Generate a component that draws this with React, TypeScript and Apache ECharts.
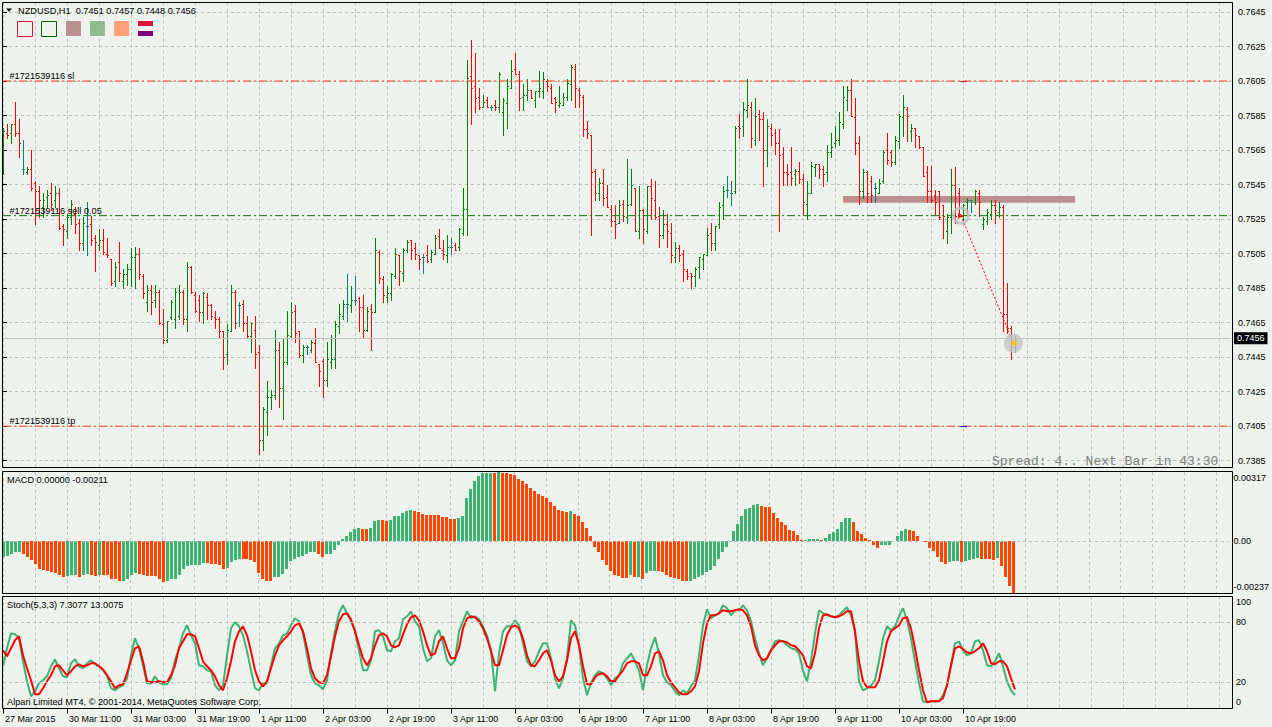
import React, { useEffect, useRef } from "react";
import * as echarts from "echarts";

// ---------------- data ----------------
const dateLabels = [
  "27 Mar 2015", "30 Mar 11:00", "31 Mar 03:00", "31 Mar 19:00", "1 Apr 11:00", "2 Apr 03:00",
  "2 Apr 19:00", "3 Apr 11:00", "6 Apr 03:00", "6 Apr 19:00", "7 Apr 11:00", "8 Apr 03:00",
  "8 Apr 19:00", "9 Apr 11:00", "10 Apr 03:00", "10 Apr 19:00",
];

const openPrices = [
  0.7561, 0.7575, 0.7575, 0.7580, 0.7575, 0.7554, 0.7552, 0.7554, 0.7546, 0.7541,
  0.7532, 0.7538, 0.7540, 0.7536, 0.7540, 0.7521, 0.7518, 0.7526, 0.7528, 0.7523,
  0.7511, 0.7521, 0.7522, 0.7514, 0.7510, 0.7513, 0.7505, 0.7502, 0.7489, 0.7500,
  0.7489, 0.7493, 0.7496, 0.7503, 0.7505, 0.7492, 0.7477, 0.7484, 0.7478, 0.7483,
  0.7464, 0.7455, 0.7468, 0.7467, 0.7469, 0.7483, 0.7467, 0.7497, 0.7481, 0.7478,
  0.7471, 0.7480, 0.7475, 0.7468, 0.7467, 0.7460, 0.7447, 0.7460, 0.7483, 0.7475,
  0.7476, 0.7465, 0.7457, 0.7461, 0.7448, 0.7397, 0.7413, 0.7422, 0.7423, 0.7449,
  0.7427, 0.7442, 0.7457, 0.7472, 0.7460, 0.7446, 0.7451, 0.7449, 0.7453, 0.7441,
  0.7443, 0.7432, 0.7442, 0.7444, 0.7463, 0.7469, 0.7476, 0.7475, 0.7478, 0.7479,
  0.7474, 0.7461, 0.7473, 0.7471, 0.7506, 0.7490, 0.7480, 0.7482, 0.7492, 0.7504,
  0.7494, 0.7507, 0.7513, 0.7508, 0.7504, 0.7503, 0.7504, 0.7502, 0.7505, 0.7515,
  0.7507, 0.7504, 0.7509, 0.7510, 0.7509, 0.7517, 0.7531, 0.7608, 0.7602, 0.7596,
  0.7590, 0.7594, 0.7590, 0.7591, 0.7590, 0.7587, 0.7592, 0.7601, 0.7612, 0.7609,
  0.7596, 0.7597, 0.7600, 0.7594, 0.7599, 0.7599, 0.7605, 0.7601, 0.7595, 0.7591,
  0.7591, 0.7596, 0.7603, 0.7612, 0.7600, 0.7596, 0.7577, 0.7574, 0.7553, 0.7540,
  0.7546, 0.7538, 0.7531, 0.7524, 0.7523, 0.7534, 0.7526, 0.7534, 0.7543, 0.7518,
  0.7530, 0.7518, 0.7544, 0.7536, 0.7527, 0.7516, 0.7522, 0.7517, 0.7503, 0.7508,
  0.7505, 0.7495, 0.7494, 0.7492, 0.7497, 0.7502, 0.7504, 0.7517, 0.7511, 0.7522,
  0.7533, 0.7542, 0.7540, 0.7541, 0.7579, 0.7579, 0.7588, 0.7590, 0.7571, 0.7586,
  0.7583, 0.7565, 0.7578, 0.7575, 0.7569, 0.7563, 0.7552, 0.7552, 0.7551, 0.7553,
  0.7548, 0.7534, 0.7540, 0.7555, 0.7557, 0.7554, 0.7552, 0.7564, 0.7569, 0.7571,
  0.7580, 0.7594, 0.7600, 0.7584, 0.7569, 0.7541, 0.7552, 0.7547, 0.7543, 0.7540,
  0.7547, 0.7565, 0.7564, 0.7558, 0.7570, 0.7584, 0.7589, 0.7576, 0.7578, 0.7573,
  0.7567, 0.7552, 0.7541, 0.7539, 0.7541, 0.7533, 0.7518, 0.7526, 0.7545, 0.7540,
  0.7527, 0.7535, 0.7536, 0.7535, 0.7540, 0.7522, 0.7524, 0.7528, 0.7533, 0.7529,
  0.7532, 0.7470, 0.7462, 0.7451,
];

const highPrices = [
  0.7578, 0.7580, 0.7580, 0.7593, 0.7583, 0.7571, 0.7555, 0.7565, 0.7547, 0.7544,
  0.7540, 0.7542, 0.7546, 0.7544, 0.7543, 0.7522, 0.7528, 0.7536, 0.7532, 0.7525,
  0.7526, 0.7535, 0.7527, 0.7516, 0.7519, 0.7519, 0.7514, 0.7502, 0.7500, 0.7512,
  0.7496, 0.7499, 0.7508, 0.7509, 0.7508, 0.7493, 0.7487, 0.7487, 0.7487, 0.7484,
  0.7473, 0.7466, 0.7478, 0.7485, 0.7487, 0.7484, 0.7500, 0.7498, 0.7483, 0.7481,
  0.7483, 0.7482, 0.7476, 0.7472, 0.7468, 0.7460, 0.7464, 0.7487, 0.7484, 0.7477,
  0.7478, 0.7469, 0.7465, 0.7469, 0.7452, 0.7416, 0.7431, 0.7426, 0.7461, 0.7454,
  0.7456, 0.7472, 0.7477, 0.7475, 0.7460, 0.7452, 0.7452, 0.7455, 0.7462, 0.7441,
  0.7444, 0.7454, 0.7458, 0.7466, 0.7476, 0.7478, 0.7493, 0.7486, 0.7492, 0.7480,
  0.7481, 0.7474, 0.7476, 0.7514, 0.7507, 0.7492, 0.7486, 0.7494, 0.7508, 0.7504,
  0.7508, 0.7513, 0.7513, 0.7511, 0.7504, 0.7505, 0.7510, 0.7507, 0.7516, 0.7519,
  0.7513, 0.7516, 0.7514, 0.7511, 0.7520, 0.7543, 0.7617, 0.7629, 0.7621, 0.7601,
  0.7597, 0.7596, 0.7591, 0.7594, 0.7610, 0.7595, 0.7606, 0.7617, 0.7621, 0.7611,
  0.7603, 0.7606, 0.7600, 0.7599, 0.7611, 0.7610, 0.7606, 0.7603, 0.7596, 0.7602,
  0.7598, 0.7606, 0.7614, 0.7615, 0.7601, 0.7597, 0.7582, 0.7574, 0.7554, 0.7549,
  0.7554, 0.7545, 0.7533, 0.7533, 0.7536, 0.7536, 0.7560, 0.7554, 0.7543, 0.7544,
  0.7531, 0.7544, 0.7548, 0.7547, 0.7532, 0.7530, 0.7528, 0.7523, 0.7512, 0.7510,
  0.7507, 0.7496, 0.7494, 0.7497, 0.7503, 0.7505, 0.7520, 0.7523, 0.7521, 0.7535,
  0.7544, 0.7550, 0.7547, 0.7579, 0.7586, 0.7593, 0.7606, 0.7593, 0.7595, 0.7588,
  0.7587, 0.7583, 0.7580, 0.7577, 0.7577, 0.7567, 0.7557, 0.7567, 0.7554, 0.7558,
  0.7551, 0.7547, 0.7558, 0.7557, 0.7557, 0.7556, 0.7568, 0.7575, 0.7579, 0.7587,
  0.7602, 0.7602, 0.7606, 0.7595, 0.7573, 0.7554, 0.7553, 0.7550, 0.7546, 0.7548,
  0.7565, 0.7575, 0.7565, 0.7573, 0.7586, 0.7597, 0.7590, 0.7580, 0.7578, 0.7573,
  0.7567, 0.7556, 0.7556, 0.7542, 0.7541, 0.7533, 0.7528, 0.7554, 0.7555, 0.7543,
  0.7534, 0.7537, 0.7536, 0.7542, 0.7542, 0.7526, 0.7531, 0.7536, 0.7536, 0.7535,
  0.7533, 0.7488, 0.7463, 0.7457,
];

const lowPrices = [
  0.7551, 0.7572, 0.7569, 0.7573, 0.7561, 0.7551, 0.7551, 0.7542, 0.7522, 0.7526,
  0.7526, 0.7532, 0.7530, 0.7532, 0.7519, 0.7510, 0.7514, 0.7522, 0.7517, 0.7507,
  0.7507, 0.7504, 0.7510, 0.7495, 0.7507, 0.7505, 0.7503, 0.7487, 0.7486, 0.7489,
  0.7485, 0.7487, 0.7486, 0.7485, 0.7490, 0.7479, 0.7472, 0.7470, 0.7474, 0.7464,
  0.7453, 0.7454, 0.7467, 0.7462, 0.7467, 0.7464, 0.7460, 0.7482, 0.7471, 0.7466,
  0.7465, 0.7467, 0.7467, 0.7462, 0.7456, 0.7438, 0.7441, 0.7460, 0.7462, 0.7463,
  0.7460, 0.7456, 0.7448, 0.7439, 0.7389, 0.7391, 0.7400, 0.7415, 0.7421, 0.7416,
  0.7409, 0.7441, 0.7456, 0.7454, 0.7445, 0.7442, 0.7447, 0.7448, 0.7442, 0.7428,
  0.7422, 0.7428, 0.7439, 0.7439, 0.7459, 0.7467, 0.7466, 0.7471, 0.7475, 0.7460,
  0.7456, 0.7460, 0.7449, 0.7471, 0.7488, 0.7477, 0.7477, 0.7478, 0.7491, 0.7487,
  0.7489, 0.7506, 0.7502, 0.7502, 0.7496, 0.7494, 0.7500, 0.7500, 0.7505, 0.7508,
  0.7502, 0.7500, 0.7505, 0.7507, 0.7507, 0.7516, 0.7516, 0.7580, 0.7587, 0.7589,
  0.7590, 0.7590, 0.7588, 0.7588, 0.7587, 0.7574, 0.7578, 0.7601, 0.7609, 0.7588,
  0.7588, 0.7594, 0.7595, 0.7590, 0.7596, 0.7595, 0.7599, 0.7592, 0.7587, 0.7590,
  0.7591, 0.7594, 0.7594, 0.7590, 0.7590, 0.7573, 0.7572, 0.7516, 0.7536, 0.7536,
  0.7533, 0.7532, 0.7521, 0.7514, 0.7523, 0.7524, 0.7523, 0.7533, 0.7518, 0.7514,
  0.7511, 0.7517, 0.7525, 0.7525, 0.7509, 0.7514, 0.7509, 0.7500, 0.7500, 0.7501,
  0.7489, 0.7490, 0.7485, 0.7486, 0.7491, 0.7496, 0.7504, 0.7507, 0.7507, 0.7520,
  0.7525, 0.7538, 0.7533, 0.7540, 0.7572, 0.7573, 0.7584, 0.7567, 0.7568, 0.7571,
  0.7544, 0.7556, 0.7568, 0.7563, 0.7518, 0.7545, 0.7545, 0.7545, 0.7545, 0.7546,
  0.7528, 0.7525, 0.7540, 0.7550, 0.7549, 0.7544, 0.7547, 0.7561, 0.7567, 0.7568,
  0.7578, 0.7588, 0.7585, 0.7563, 0.7534, 0.7537, 0.7535, 0.7535, 0.7535, 0.7540,
  0.7546, 0.7557, 0.7556, 0.7557, 0.7566, 0.7573, 0.7570, 0.7570, 0.7567, 0.7566,
  0.7550, 0.7535, 0.7535, 0.7528, 0.7525, 0.7514, 0.7511, 0.7517, 0.7523, 0.7527,
  0.7523, 0.7528, 0.7529, 0.7534, 0.7527, 0.7519, 0.7522, 0.7525, 0.7523, 0.7526,
  0.7460, 0.7459, 0.7444, 0.7448,
];

const closePrices = [
  0.7576, 0.7574, 0.7580, 0.7575, 0.7569, 0.7554, 0.7554, 0.7543, 0.7541, 0.7536,
  0.7536, 0.7539, 0.7534, 0.7540, 0.7520, 0.7519, 0.7526, 0.7534, 0.7522, 0.7511,
  0.7523, 0.7521, 0.7513, 0.7512, 0.7513, 0.7506, 0.7504, 0.7488, 0.7497, 0.7494,
  0.7493, 0.7496, 0.7503, 0.7505, 0.7493, 0.7482, 0.7484, 0.7477, 0.7483, 0.7465,
  0.7455, 0.7466, 0.7477, 0.7483, 0.7483, 0.7467, 0.7497, 0.7483, 0.7472, 0.7471,
  0.7482, 0.7475, 0.7469, 0.7467, 0.7460, 0.7445, 0.7461, 0.7483, 0.7465, 0.7475,
  0.7465, 0.7457, 0.7465, 0.7447, 0.7397, 0.7415, 0.7422, 0.7423, 0.7449, 0.7427,
  0.7442, 0.7458, 0.7471, 0.7459, 0.7446, 0.7451, 0.7451, 0.7454, 0.7442, 0.7437,
  0.7432, 0.7444, 0.7444, 0.7464, 0.7470, 0.7476, 0.7476, 0.7478, 0.7478, 0.7474,
  0.7461, 0.7472, 0.7471, 0.7507, 0.7491, 0.7481, 0.7482, 0.7493, 0.7505, 0.7495,
  0.7507, 0.7512, 0.7507, 0.7505, 0.7502, 0.7503, 0.7501, 0.7506, 0.7514, 0.7508,
  0.7505, 0.7509, 0.7509, 0.7507, 0.7519, 0.7531, 0.7607, 0.7601, 0.7595, 0.7590,
  0.7593, 0.7590, 0.7590, 0.7590, 0.7609, 0.7594, 0.7602, 0.7611, 0.7609, 0.7595,
  0.7597, 0.7600, 0.7595, 0.7599, 0.7601, 0.7606, 0.7602, 0.7592, 0.7593, 0.7592,
  0.7596, 0.7604, 0.7613, 0.7601, 0.7597, 0.7577, 0.7575, 0.7552, 0.7540, 0.7546,
  0.7537, 0.7532, 0.7524, 0.7522, 0.7533, 0.7527, 0.7533, 0.7545, 0.7518, 0.7530,
  0.7519, 0.7544, 0.7537, 0.7526, 0.7516, 0.7522, 0.7518, 0.7504, 0.7508, 0.7504,
  0.7496, 0.7492, 0.7492, 0.7496, 0.7503, 0.7505, 0.7516, 0.7511, 0.7521, 0.7532,
  0.7541, 0.7542, 0.7540, 0.7578, 0.7578, 0.7589, 0.7591, 0.7572, 0.7585, 0.7583,
  0.7565, 0.7579, 0.7574, 0.7569, 0.7562, 0.7552, 0.7551, 0.7549, 0.7553, 0.7548,
  0.7535, 0.7540, 0.7556, 0.7557, 0.7554, 0.7551, 0.7564, 0.7567, 0.7571, 0.7581,
  0.7596, 0.7600, 0.7585, 0.7569, 0.7541, 0.7552, 0.7540, 0.7539, 0.7543, 0.7546,
  0.7564, 0.7559, 0.7558, 0.7571, 0.7585, 0.7590, 0.7585, 0.7578, 0.7574, 0.7567,
  0.7550, 0.7541, 0.7536, 0.7535, 0.7526, 0.7527, 0.7526, 0.7545, 0.7527, 0.7527,
  0.7533, 0.7536, 0.7536, 0.7541, 0.7535, 0.7525, 0.7529, 0.7533, 0.7530, 0.7532,
  0.7470, 0.7462, 0.7451, 0.7456,
];

const macdValues = [
  -0.00074, -0.00069, -0.00057, -0.00048, -0.00047, -0.00060, -0.00074, -0.00086, -0.00103, -0.00125,
  -0.00132, -0.00137, -0.00141, -0.00145, -0.00154, -0.00163, -0.00160, -0.00154, -0.00153, -0.00163,
  -0.00154, -0.00152, -0.00155, -0.00159, -0.00154, -0.00155, -0.00156, -0.00173, -0.00175, -0.00182,
  -0.00180, -0.00173, -0.00154, -0.00146, -0.00149, -0.00156, -0.00157, -0.00158, -0.00159, -0.00173,
  -0.00187, -0.00180, -0.00173, -0.00172, -0.00154, -0.00129, -0.00115, -0.00111, -0.00110, -0.00108,
  -0.00099, -0.00100, -0.00103, -0.00104, -0.00108, -0.00125, -0.00122, -0.00094, -0.00086, -0.00081,
  -0.00082, -0.00083, -0.00084, -0.00094, -0.00146, -0.00172, -0.00180, -0.00184, -0.00163, -0.00162,
  -0.00151, -0.00129, -0.00091, -0.00081, -0.00074, -0.00069, -0.00060, -0.00051, -0.00050, -0.00060,
  -0.00072, -0.00060, -0.00057, -0.00039, -0.00019, 0.00009, 0.00026, 0.00043, 0.00055, 0.00060,
  0.00055, 0.00054, 0.00060, 0.00091, 0.00096, 0.00095, 0.00093, 0.00098, 0.00115, 0.00117,
  0.00129, 0.00137, 0.00142, 0.00137, 0.00132, 0.00123, 0.00122, 0.00120, 0.00119, 0.00118,
  0.00111, 0.00110, 0.00103, 0.00102, 0.00108, 0.00115, 0.00197, 0.00240, 0.00274, 0.00297,
  0.00312, 0.00313, 0.00314, 0.00312, 0.00317, 0.00312, 0.00311, 0.00310, 0.00304, 0.00286,
  0.00274, 0.00261, 0.00244, 0.00232, 0.00214, 0.00209, 0.00197, 0.00180, 0.00160, 0.00141,
  0.00137, 0.00132, 0.00137, 0.00125, 0.00115, 0.00086, 0.00060, 0.00022, -0.00026, -0.00051,
  -0.00086, -0.00111, -0.00137, -0.00154, -0.00160, -0.00168, -0.00170, -0.00154, -0.00166, -0.00164,
  -0.00172, -0.00146, -0.00137, -0.00136, -0.00138, -0.00142, -0.00154, -0.00166, -0.00168, -0.00172,
  -0.00180, -0.00184, -0.00180, -0.00172, -0.00166, -0.00154, -0.00142, -0.00132, -0.00115, -0.00082,
  -0.00051, -0.00026, -0.00005, 0.00046, 0.00081, 0.00115, 0.00146, 0.00154, 0.00166, 0.00172,
  0.00160, 0.00158, 0.00157, 0.00129, 0.00108, 0.00089, 0.00074, 0.00051, 0.00048, 0.00029,
  0.00005, 0.00006, 0.00009, 0.00010, 0.00011, 0.00005, 0.00017, 0.00031, 0.00043, 0.00055,
  0.00086, 0.00106, 0.00107, 0.00086, 0.00046, 0.00031, 0.00017, 0.00005, -0.00017, -0.00029,
  -0.00017, -0.00016, -0.00015, 0.00000, 0.00026, 0.00046, 0.00055, 0.00050, 0.00048, 0.00026,
  0.00003, -0.00005, -0.00029, -0.00046, -0.00074, -0.00094, -0.00103, -0.00094, -0.00091, -0.00090,
  -0.00097, -0.00091, -0.00086, -0.00081, -0.00077, -0.00081, -0.00082, -0.00083, -0.00084, -0.00077,
  -0.00115, -0.00166, -0.00206, -0.00237,
];

const stochMain = [
  36, 54, 69, 68, 64, 41, 21, 6, 11, 19,
  22, 26, 36, 43, 34, 26, 25, 39, 43, 36,
  34, 39, 42, 38, 36, 32, 27, 14, 12, 15,
  17, 24, 47, 64, 54, 37, 19, 19, 26, 20,
  18, 18, 24, 42, 54, 69, 77, 67, 59, 37,
  36, 32, 31, 17, 12, 17, 47, 74, 80, 76,
  67, 51, 32, 14, 12, 19, 19, 37, 54, 59,
  67, 69, 77, 84, 81, 69, 47, 27, 19, 17,
  13, 22, 49, 71, 89, 97, 89, 81, 71, 52,
  32, 32, 42, 71, 72, 66, 52, 51, 61, 64,
  83, 86, 91, 81, 76, 54, 41, 44, 66, 72,
  59, 42, 37, 42, 71, 81, 91, 84, 86, 83,
  76, 67, 52, 11, 49, 71, 76, 76, 82, 77,
  59, 41, 36, 41, 51, 59, 59, 44, 24, 14,
  24, 44, 82, 77, 57, 24, 7, 19, 27, 31,
  29, 24, 17, 24, 27, 39, 44, 49, 41, 32,
  12, 37, 54, 65, 49, 27, 20, 17, 11, 7,
  12, 9, 16, 22, 47, 77, 93, 84, 87, 89,
  97, 94, 87, 92, 92, 97, 92, 81, 64, 49,
  37, 44, 52, 61, 62, 61, 57, 54, 53, 49,
  32, 21, 41, 69, 92, 89, 87, 86, 85, 87,
  91, 95, 87, 71, 21, 12, 14, 17, 22, 41,
  64, 76, 72, 76, 86, 94, 82, 64, 41, 19,
  1, 0, 1, 1, 1, 7, 17, 37, 59, 61,
  52, 47, 49, 61, 62, 52, 37, 36, 41, 49,
  36, 21, 12, 7.3077,
];

const stochSignal = [
  52, 46, 54, 62, 66, 47, 34, 22, 8, 8,
  14, 21, 27, 36, 37, 32, 27, 31, 36, 38,
  36, 37, 39, 39, 36, 33, 27, 21, 14, 17,
  18, 29, 42, 54, 56, 41, 21, 20, 20, 21,
  20, 20, 27, 37, 54, 61, 68, 68, 66, 54,
  41, 36, 32, 26, 17, 12, 24, 41, 61, 71,
  76, 67, 51, 32, 21, 16, 21, 34, 47, 57,
  62, 66, 71, 77, 79, 71, 54, 34, 24, 20,
  19, 27, 46, 66, 81, 88, 89, 83, 71, 57,
  44, 37, 44, 57, 67, 69, 66, 57, 55, 57,
  68, 78, 85, 87, 82, 71, 57, 47, 49, 61,
  66, 54, 44, 44, 54, 74, 84, 86, 85, 81,
  74, 64, 51, 37, 37, 52, 67, 75, 77, 74,
  64, 47, 37, 36, 42, 49, 52, 42, 27, 21,
  26, 42, 64, 71, 57, 36, 18, 18, 25, 28,
  29, 26, 21, 21, 27, 32, 39, 41, 41, 39,
  27, 27, 36, 49, 51, 42, 27, 20, 15, 10,
  8, 8, 11, 16, 31, 59, 79, 87, 87, 89,
  92, 91, 91, 92, 93, 92, 87, 76, 57, 47,
  42, 44, 52, 57, 61, 61, 60, 57, 56, 52,
  47, 36, 34, 49, 74, 87, 88, 86, 85, 86,
  88, 91, 91, 71, 41, 21, 15, 15, 15, 22,
  41, 61, 71, 74, 77, 84, 85, 74, 54, 32,
  12, 0, 1, 1, 1, 4, 17, 37, 54, 56,
  53, 50, 49, 51, 54, 59, 51, 39, 38, 41,
  41, 36, 24, 13.0075,
];

// order levels / objects
const stopLossLevel = 0.7605;
const sellLevel = 0.7527;
const takeProfitLevel = 0.7405;
const currentPrice = 0.7456;
const rectTop = 0.75384;
const rectBottom = 0.75345;
const tradeOpen = [239.5, 0.7527];
const tradeClose = [252.6, 0.7453];

// ---------------- styling ----------------
const BG = "#EDF2ED";
const GRID_C = "#BEBEBE";
const FONT = '"Liberation Sans", Arial, sans-serif';
const UP = "#008000";
const DOWN = "#FF0000";
const FLAT = "#008080";
const MACD_UP = "#3CB371";
const MACD_DOWN = "#FF4500";
const SL_TP = "#FF4500";
const SELL_C = "#008000";
const N_SLOTS = 308;
const GL = 3;
const GW = 1228;

export default function App() {
  const ref = useRef<HTMLDivElement>(null);

  useEffect(() => {
    document.body.style.margin = "0";
    document.body.style.background = BG;
    const chart = echarts.init(ref.current!, null, { renderer: "svg" });
    const slots = Array.from({ length: N_SLOTS }, (_, i) => String(i));

    const barData = openPrices.map((o, i) => [i, o, highPrices[i], lowPrices[i], closePrices[i]]);
    const macdData = macdValues.map((v, i) => [i, v, i === 0 || v >= macdValues[i - 1] ? 1 : 0]);
    const mainData = stochMain.map((v, i) => [i, v]);
    const sigData = stochSignal.map((v, i) => [i, v]);

    const vGrid = (gridIndex: number, extra: any = {}) => ({
      type: "category",
      gridIndex,
      data: slots,
      boundaryGap: false,
      position: "bottom",
      axisLine: { show: false },
      axisTick: { show: false },
      axisLabel: { show: false },
      splitLine: {
        show: true,
        interval: (i: number) => i % 8 === 0,
        lineStyle: { color: GRID_C, type: [3, 3], width: 1 },
      },
      ...extra,
    });
    const hiddenX = (gridIndex: number) => ({ type: "value", gridIndex, min: 0, max: N_SLOTS - 1, show: false, position: "top" });
    const hiddenY = (gridIndex: number) => ({ type: "value", gridIndex, min: 0, max: 1, show: false });

    // hidden carrier series for marker-based objects
    const objectSeries = (name: string, color: string, markLine: any, z = 4, extra: any = {}) => ({
      type: "line",
      name,
      color,
      xAxisIndex: 0,
      yAxisIndex: 0,
      z,
      silent: true,
      symbol: "none",
      lineStyle: { opacity: 0, color },
      data: [[0, closePrices[0]]],
      markLine: markLine
        ? { silent: true, precision: 6, symbol: ["none", "none"], label: { show: false }, ...markLine }
        : undefined,
      ...extra,
    });
    // order levels drawn as plain two-point line series across the whole plot width
    const levelLine = (name: string, level: number, color: string) => ({
      type: "line",
      name,
      color,
      xAxisIndex: 0,
      yAxisIndex: 0,
      z: 4,
      silent: true,
      symbol: "none",
      data: [[0, level], [N_SLOTS - 1, level]],
      lineStyle: { color, type: [8, 3, 2, 3], width: 1, opacity: 1 },
    });

    const txt = (x: number, y: number, text: string, size = 9.2, extra: any = {}) => ({
      type: "text",
      x,
      y,
      z: 100,
      silent: true,
      style: {
        text,
        fill: "#000",
        font: `${size}px ${FONT}`,
        textAlign: "left",
        align: "left",
        textVerticalAlign: "middle",
        verticalAlign: "middle",
        ...extra,
      },
    });
    const frame = (y: number, h: number) => ({
      type: "rect",
      z: 100,
      silent: true,
      shape: { x: 2.5, y, width: 1230, height: h },
      style: { fill: "none", stroke: "#000", lineWidth: 1 },
    });
    const box = (x: number, y: number, w: number, h: number, style: any) => ({
      type: "rect",
      z: 100,
      silent: true,
      shape: { x, y, width: w, height: h },
      style,
    });

    const option: any = {
      animation: false,
      backgroundColor: BG,
      grid: [
        { left: GL, width: GW, top: 12, height: 448.7 },
        { left: GL, width: GW, top: 2.5, height: 465 },
        { left: GL, width: GW, top: 472, height: 121 },
        { left: GL, width: GW, top: 602.3, height: 100 },
        { left: GL, width: GW, top: 596.5, height: 112 },
      ],
      xAxis: [
        hiddenX(0),
        vGrid(1),
        hiddenX(2),
        vGrid(2),
        hiddenX(3),
        vGrid(4, {
          axisTick: {
            show: true,
            interval: (i: number) => i % 16 === 0 && i <= 240,
            length: 5,
            lineStyle: { color: "#000", width: 1 },
          },
          axisLabel: {
            show: true,
            interval: (i: number) => i % 16 === 0 && i <= 240,
            formatter: (v: string) => dateLabels[Number(v) / 16] || "",
            align: "left",
            padding: [0, 0, 0, 2],
            margin: 6,
            color: "#000",
            fontSize: 9,
            fontFamily: FONT,
          },
        }),
      ],
      yAxis: [
        {
          type: "value",
          gridIndex: 0,
          position: "right",
          min: 0.7385,
          max: 0.7645,
          interval: 0.002,
          axisLine: { show: false },
          axisTick: { show: true, length: 4, lineStyle: { color: "#000" } },
          axisLabel: { formatter: (v: number) => v.toFixed(4), color: "#000", fontSize: 9, fontFamily: FONT, margin: 7 },
          splitLine: { show: true, lineStyle: { color: GRID_C, type: [3, 3], width: 1 } },
        },
        hiddenY(1),
        {
          type: "value",
          gridIndex: 2,
          position: "right",
          min: -0.00237,
          max: 0.00317,
          interval: 0.00554,
          axisLine: { show: false },
          axisTick: { show: false },
          splitLine: { show: false },
          axisLabel: {
            margin: 5,
            formatter: (v: number) => (v > 0 ? `{t|${v.toFixed(5)}}` : `{b|${v.toFixed(5)}}`),
            rich: {
              t: { padding: [12, 0, 0, 0], color: "#000", fontSize: 9, fontFamily: FONT },
              b: { padding: [0, 0, 12, 0], color: "#000", fontSize: 9, fontFamily: FONT },
            },
          },
        },
        {
          type: "value",
          gridIndex: 3,
          position: "right",
          min: 0,
          max: 100,
          interval: 20,
          axisLine: { show: false },
          axisTick: { show: false },
          splitLine: { show: false },
          axisLabel: {
            margin: 5,
            formatter: (v: number) => (v === 0 || v === 20 || v === 80 || v === 100 ? String(v) : ""),
            color: "#000",
            fontSize: 9,
            fontFamily: FONT,
          },
        },
        hiddenY(4),
      ],
      series: [
        {
          type: "custom",
          name: "bars",
          xAxisIndex: 0,
          yAxisIndex: 0,
          z: 3,
          silent: true,
          data: barData,
          encode: { x: 0, y: [1, 2, 3, 4] },
          renderItem: (params: any, api: any) => {
            const i = api.value(0);
            const o = api.value(1);
            const h = api.value(2);
            const l = api.value(3);
            const c = api.value(4);
            const pt = api.coord([i, h]);
            const pb = api.coord([i, l]);
            const po = api.coord([i, o]);
            const pc = api.coord([i, c]);
            const color = c > o ? UP : c < o ? DOWN : FLAT;
            const x = Math.round(pt[0]) + 0.5;
            const yo = Math.round(po[1]) + 0.5;
            const yc = Math.round(pc[1]) + 0.5;
            const st = { stroke: color, lineWidth: 1 };
            return {
              type: "group",
              children: [
                { type: "line", shape: { x1: x, y1: Math.round(pt[1]), x2: x, y2: Math.round(pb[1]) + 1 }, style: st },
                { type: "line", shape: { x1: x - 1.5, y1: yo, x2: x, y2: yo }, style: st },
                { type: "line", shape: { x1: x, y1: yc, x2: x + 1.5, y2: yc }, style: st },
              ],
            };
          },
        },
        objectSeries("price line", "#C0C0C0", {
          data: [{ yAxis: currentPrice }],
          lineStyle: { color: "#C0C0C0", type: "solid", width: 1 },
          label: {
            show: true, position: "end", formatter: "0.7456", color: "#fff", backgroundColor: "#000",
            padding: [2, 3, 1, 3], fontSize: 9, fontFamily: FONT, distance: 3,
          },
        }, 2),
        levelLine("sl", stopLossLevel, SL_TP),
        levelLine("sell", sellLevel, SELL_C),
        levelLine("tp", takeProfitLevel, SL_TP),
        objectSeries("sl mark", "#B22222", {
          data: [[{ coord: [239.3, stopLossLevel] }, { coord: [241, stopLossLevel] }]],
          lineStyle: { color: "#B22222", type: "solid", width: 1 },
        }, 5),
        objectSeries("tp mark", "#0000FF", {
          data: [[{ coord: [239.3, takeProfitLevel] }, { coord: [241, takeProfitLevel] }]],
          lineStyle: { color: "#0000FF", type: "solid", width: 1 },
        }, 5),
        objectSeries("trade", "#FF0000", {
          data: [[{ coord: tradeOpen }, { coord: tradeClose }]],
          lineStyle: { color: "#FF0000", type: [2, 2], width: 1 },
        }, 5),
        objectSeries("rectangle", "#BC8F8F", null, 4, {
          markArea: {
            silent: true,
            itemStyle: { color: "#BC8F8F", opacity: 1 },
            data: [[{ coord: [210, rectTop] }, { coord: [268, rectBottom] }]],
          },
        }),
        {
          type: "scatter",
          name: "trade marks",
          xAxisIndex: 0,
          yAxisIndex: 0,
          z: 6,
          silent: true,
          data: [
            { value: tradeOpen, symbol: "circle", symbolSize: 15, itemStyle: { color: "rgba(0,0,0,0)", borderColor: "#BDBDBD", borderWidth: 3 } },
            { value: tradeOpen, symbol: "triangle", symbolRotate: -90, symbolSize: 6, itemStyle: { color: "#FF0000" } },
            { value: tradeClose, symbol: "circle", symbolSize: 19, itemStyle: { color: "#C3C3C3" } },
            { value: tradeClose, symbol: "triangle", symbolRotate: 90, symbolSize: 7, itemStyle: { color: "#FFC000" } },
          ],
        },
        {
          type: "custom",
          name: "MACD",
          xAxisIndex: 2,
          yAxisIndex: 2,
          z: 3,
          silent: true,
          data: macdData,
          encode: { x: 0, y: 1 },
          renderItem: (params: any, api: any) => {
            const i = api.value(0);
            const v = api.value(1);
            const up = api.value(2);
            const p = api.coord([i, v]);
            const z0 = api.coord([i, 0]);
            const x = Math.round(p[0]) - 1;
            const y0 = Math.round(z0[1]);
            const y1 = Math.round(p[1]);
            return {
              type: "rect",
              shape: { x, y: Math.min(y0, y1), width: 3, height: Math.abs(y1 - y0) },
              style: { fill: up ? MACD_UP : MACD_DOWN },
            };
          },
        },
        {
          type: "line",
          name: "macdZero",
          color: GRID_C,
          xAxisIndex: 2,
          yAxisIndex: 2,
          silent: true,
          symbol: "none",
          lineStyle: { opacity: 0 },
          data: [[0, 0]],
          markLine: {
            silent: true,
            precision: 6,
            symbol: ["none", "none"],
            data: [{ yAxis: 0 }],
            lineStyle: { color: GRID_C, type: [3, 3], width: 1 },
            label: { show: true, position: "end", formatter: "0.00", color: "#000", fontSize: 9, fontFamily: FONT, distance: 5 },
          },
        },
        {
          type: "line",
          name: "Stoch main",
          color: "#3CB371",
          xAxisIndex: 4,
          yAxisIndex: 3,
          z: 3,
          silent: true,
          symbol: "none",
          data: mainData,
          lineStyle: { color: "#3CB371", width: 2 },
          markLine: {
            silent: true,
            symbol: ["none", "none"],
            label: { show: false },
            lineStyle: { color: GRID_C, type: [3, 3], width: 1 },
            data: [{ yAxis: 80 }, { yAxis: 20 }],
          },
        },
        {
          type: "line",
          name: "Stoch signal",
          color: "#FF0000",
          xAxisIndex: 4,
          yAxisIndex: 3,
          z: 4,
          silent: true,
          symbol: "none",
          data: sigData,
          lineStyle: { color: "#FF0000", width: 2 },
        },
      ],
      graphic: [
        frame(2.5, 465),
        frame(471.5, 122),
        frame(596.5, 112),
        { type: "polygon", z: 100, silent: true, shape: { points: [[6, 8.5], [12, 8.5], [9, 11.8]] }, style: { fill: "#000" } },
        txt(18, 10.5, "NZDUSD,H1  0.7451 0.7457 0.7448 0.7456"),
        box(17.5, 21.5, 15, 15, { fill: "none", stroke: "#DC143C", lineWidth: 1 }),
        box(41.5, 21.5, 15, 15, { fill: "none", stroke: "#006400", lineWidth: 1 }),
        box(66, 21, 15, 15, { fill: "#BC8F8F" }),
        box(90, 21, 15, 15, { fill: "#8FBC8F" }),
        box(114, 21, 15, 15, { fill: "#FFA07A" }),
        box(138, 21, 15, 5, { fill: "#DC143C" }),
        box(138, 31, 15, 5, { fill: "#800080" }),
        txt(9.5, 75.5, "#1721539116 sl"),
        txt(9.5, 210.5, "#1721539116 sell 0.05"),
        txt(9.5, 420.5, "#1721539116 tp"),
        txt(992, 461.5, "Spread: 4.. Next Bar in 43:30", 13, { fill: "#808080", font: '13px "Liberation Mono", monospace' }),
        txt(7, 480, "MACD 0.00000 -0.00211"),
        txt(7, 605, "Stoch(5,3,3) 7.3077 13.0075"),
        txt(7, 702, "Alpari Limited MT4, \u00A9 2001-2014, MetaQuotes Software Corp."),
      ],
    };

    chart.setOption(option);
    return () => chart.dispose();
  }, []);

  return <div ref={ref} style={{ width: 1272, height: 727 }} />;
}
